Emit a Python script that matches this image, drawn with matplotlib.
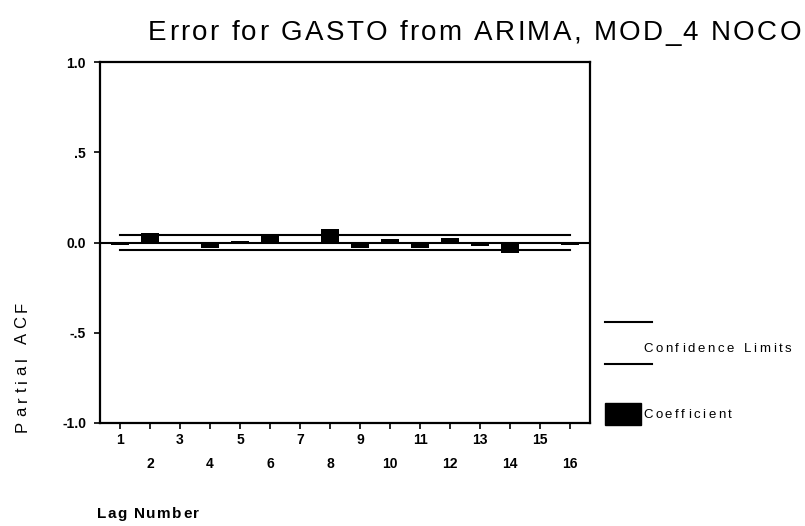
import matplotlib.pyplot as plt
import numpy as np

plt.rcParams['font.family'] = ['Liberation Sans', 'DejaVu Sans']

### データ
lags = np.arange(1, 17)
coef = [-0.015, 0.052, 0.005, -0.032, 0.010, 0.040, -0.008, 0.075,
        -0.032, 0.018, -0.030, 0.026, -0.020, -0.057, -0.005, -0.015]
conf_upper = [0.04] * 16
conf_lower = [-0.04] * 16

ytick_vals = [-1.0, -0.5, 0.0, 0.5, 1.0]
ytick_labels = ["-1.0", "-.5", "0.0", ".5", "1.0"]
xtick_labels = [str(k) if k % 2 == 1 else "\n" + str(k) for k in lags]

title = "Error for GASTO from ARIMA, MOD_4 NOCO"

W, H = 805, 526
fig = plt.figure(figsize=(W / 100, H / 100), dpi=100)
renderer = fig.canvas.get_renderer()


### 字間をあけて文字を書く (x, y はピクセル、上から)
def spaced_text(x, y, s, size, track, vertical=False, **kw):
    pos = 0.0
    for ch in s:
        if vertical:
            t = fig.text(x / W, 1 - (y - pos) / H, ch, fontsize=size, rotation=90,
                         ha="center", va="bottom", **kw)
        else:
            t = fig.text((x + pos) / W, 1 - y / H, ch, fontsize=size,
                         ha="left", va="baseline", **kw)
        if ch == " ":
            adv = size * 0.28 * 100 / 72
        else:
            bb = t.get_window_extent(renderer)
            adv = bb.height if vertical else bb.width
        pos += adv + track


### プロット領域 (ピクセル位置から)
ax = fig.add_axes([100 / W, 1 - 423 / H, 490 / W, 361 / H])

ax.bar(lags, coef, width=0.57, color="black", zorder=3)
ax.plot(lags, conf_upper, color="black", linewidth=1.5, zorder=2)
ax.plot(lags, conf_lower, color="black", linewidth=1.5, zorder=2)
ax.axhline(0, color="black", linewidth=1.5, zorder=2)

ax.set_xlim(1 / 3, 16 + 2 / 3)
ax.set_ylim(-1.0, 1.0)
ax.set_yticks(ytick_vals)
ax.set_yticklabels(ytick_labels, fontweight="bold")
ax.set_xticks(lags)
ax.set_xticklabels(xtick_labels, linespacing=1.9, fontweight="bold")
ax.tick_params(axis="both", labelsize=10, length=4, width=1.2, direction="out")
ax.tick_params(axis="y", pad=6)
ax.tick_params(axis="x", pad=3)
for s in ax.spines.values():
    s.set_linewidth(1.6)

### タイトル・軸ラベル
spaced_text(148, 40, title, 20, 2.3)
spaced_text(22, 432, "Partial ACF", 12, 4.5, vertical=True)
spaced_text(97, 518, "Lag Number", 11, 1.4, fontweight="bold")

### 凡例 (手描き)
lax = fig.add_axes([0, 0, 1, 1], zorder=5)
lax.set_xlim(0, W)
lax.set_ylim(H, 0)
lax.axis("off")
lax.plot([605, 652], [322, 322], color="black", linewidth=1.5)
lax.plot([605, 652], [364, 364], color="black", linewidth=1.5)
lax.add_patch(plt.Rectangle((605, 403), 36, 22, color="black"))
spaced_text(643, 352, "Confidence Limits", 9.5, 2.7)
spaced_text(643, 418, "Coefficient", 9.5, 2.6)

fig.savefig("out.png", dpi=100)
